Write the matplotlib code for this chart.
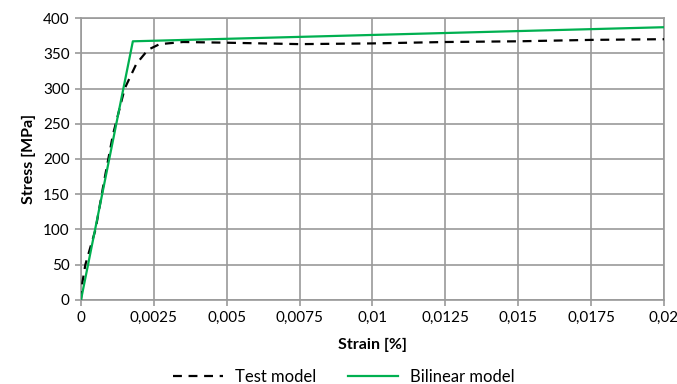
import matplotlib
matplotlib.use("Agg")
from matplotlib import pyplot as plt
import matplotlib.ticker as ticker

plt.rcParams['font.family'] = ['Lato', 'DejaVu Sans']

# ============================== Data =============================== #
test_strain = [0, 0.00005, 0.00015, 0.0005, 0.0008, 0.0011, 0.0015, 0.0019,
               0.0023, 0.0027, 0.0035, 0.005, 0.0075, 0.01, 0.0125, 0.015,
               0.0175, 0.02]
test_stress = [0, 25, 50, 100, 170, 235, 300, 335,
               355, 363, 366, 365, 363, 364, 366, 367,
               369, 370]

bilinear_strain = [0, 0.00178, 0.02]
bilinear_stress = [0, 367, 387]

x_ticks = [0, 0.0025, 0.005, 0.0075, 0.01, 0.0125, 0.015, 0.0175, 0.02]
x_tick_labels = ["0", "0,0025", "0,005", "0,0075", "0,01", "0,0125",
                 "0,015", "0,0175", "0,02"]
x_title = "Strain [%]"
y_title = "Stress [MPa]"
# =================================================================== #

grid_col = '#9a9a9a'

fig = plt.figure(figsize=(6.77, 3.84), dpi=100)
ax = fig.add_axes([0.1196, 0.219, 0.8612, 0.734])

ax.plot(test_strain, test_stress, color='black', linewidth=1.6,
        dashes=(4, 3), label='Test model', zorder=3)
ax.plot(bilinear_strain, bilinear_stress, color='#00B050', linewidth=1.6,
        label='Bilinear model', zorder=4)

ax.set_xlim(0, 0.02)
ax.set_ylim(0, 400)
ax.set_xticks(x_ticks)
ax.set_xticklabels(x_tick_labels)
ax.yaxis.set_major_locator(ticker.MultipleLocator(50))
ax.grid(True, color=grid_col, linewidth=1.2)
ax.set_axisbelow(True)
for s in ax.spines.values():
    s.set_color(grid_col)
    s.set_linewidth(1.2)
ax.tick_params(axis='both', color=grid_col, width=1.2, length=4,
               labelsize=11, pad=4)

ax.set_xlabel(x_title, fontsize=11.5, fontweight='bold', labelpad=9)
ax.set_ylabel(y_title, fontsize=11.5, fontweight='bold', labelpad=5)

fig.legend(loc='center', bbox_to_anchor=(0.508, 0.018), ncol=2, frameon=False,
           fontsize=12, handlelength=3.0, columnspacing=1.9,
           handletextpad=0.7)

plt.savefig('out.png', dpi=100)
